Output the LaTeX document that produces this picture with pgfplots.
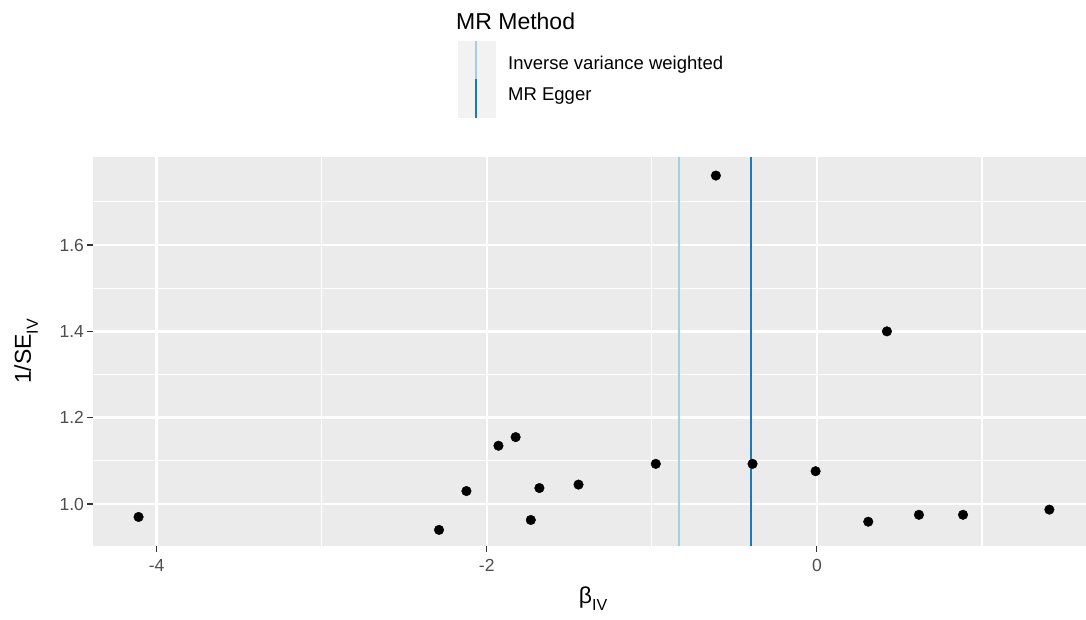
\documentclass[border=0pt]{standalone}
\usepackage{fontspec}
\setmainfont{Liberation Sans}
\usepackage{pgfplots}
\pgfplotsset{compat=1.18}
\definecolor{panelgrey}{HTML}{EBEBEB}
\definecolor{keygrey}{HTML}{F2F2F2}
\definecolor{ticklab}{HTML}{4D4D4D}
\definecolor{tickcol}{HTML}{333333}
\definecolor{ivw}{HTML}{A6CEE3}
\definecolor{egger}{HTML}{1F78B4}

\begin{document}
\begin{tikzpicture}[x=1pt,y=1pt]
\useasboundingbox (0,0) rectangle (1086,619);
\begin{axis}[
  at={(93pt,73pt)}, anchor=south west,
  scale only axis, width=993pt, height=389pt,
  xmin=-4.385, xmax=1.63, ymin=0.9027, ymax=1.804,
  axis background/.style={fill=panelgrey},
  axis line style={draw=none},
  xtick={-4,-2,0}, xticklabels={-4,-2,0},
  minor xtick={-3,-1,1},
  ytick={1,1.2,1.4,1.6}, yticklabels={1.0,1.2,1.4,1.6},
  minor ytick={1.1,1.3,1.5,1.7},
  grid=both,
  major grid style={white, line width=2.4pt},
  minor grid style={white, line width=1.2pt},
  tick align=outside, tick pos=left,
  major tick length=5.5pt, minor tick length=0pt,
  tick style={tickcol, line width=1.1pt},
  ticklabel style={font=\fontsize{17.5}{18}\selectfont, text=ticklab},
  xticklabel style={yshift=-4pt},
  /pgf/number format/assume math mode=true,
  clip=false,
]
% ratio estimates
\addplot[only marks, mark=*, mark size=4.8pt, black] coordinates {
  (-4.109,0.970) (-2.289,0.940) (-2.123,1.030) (-1.929,1.135)
  (-1.825,1.155) (-1.733,0.963) (-1.681,1.037) (-1.444,1.045)
  (-0.976,1.093) (-0.612,1.761) (-0.390,1.093) (-0.008,1.076)
  (0.311,0.959) (0.424,1.400) (0.618,0.975) (0.885,0.975)
  (1.408,0.987)
};
% MR estimates
\addplot[ivw, line width=1.5pt] coordinates {(-0.836,0.9027) (-0.836,1.804)};
\addplot[egger, line width=1.5pt] coordinates {(-0.400,0.9027) (-0.400,1.804)};
\end{axis}

% axis titles
\node[font=\fontsize{23}{24}\selectfont] at (593,20)
  {β\raisebox{-0.3em}{\fontsize{16}{16}\selectfont IV}};
\node[font=\fontsize{23}{24}\selectfont, rotate=90] at (26,267.5)
  {1/SE\raisebox{-0.3em}{\fontsize{16}{16}\selectfont IV}};

% legend
\node[anchor=west, font=\fontsize{23}{24}\selectfont, inner sep=0pt] at (456,598) {MR Method};
\fill[keygrey] (458,539.5) rectangle (496,578);
\fill[keygrey] (458,501) rectangle (496,539.5);
\draw[ivw, line width=1.5pt] (476,539.5) -- (476,578);
\draw[egger, line width=1.5pt] (476,501) -- (476,539.5);
\node[anchor=west, font=\fontsize{18.5}{19}\selectfont, inner sep=0pt] at (508,554) {Inverse variance weighted};
\node[anchor=west, font=\fontsize{18.5}{19}\selectfont, inner sep=0pt] at (508,523) {MR Egger};
\end{tikzpicture}
\end{document}
